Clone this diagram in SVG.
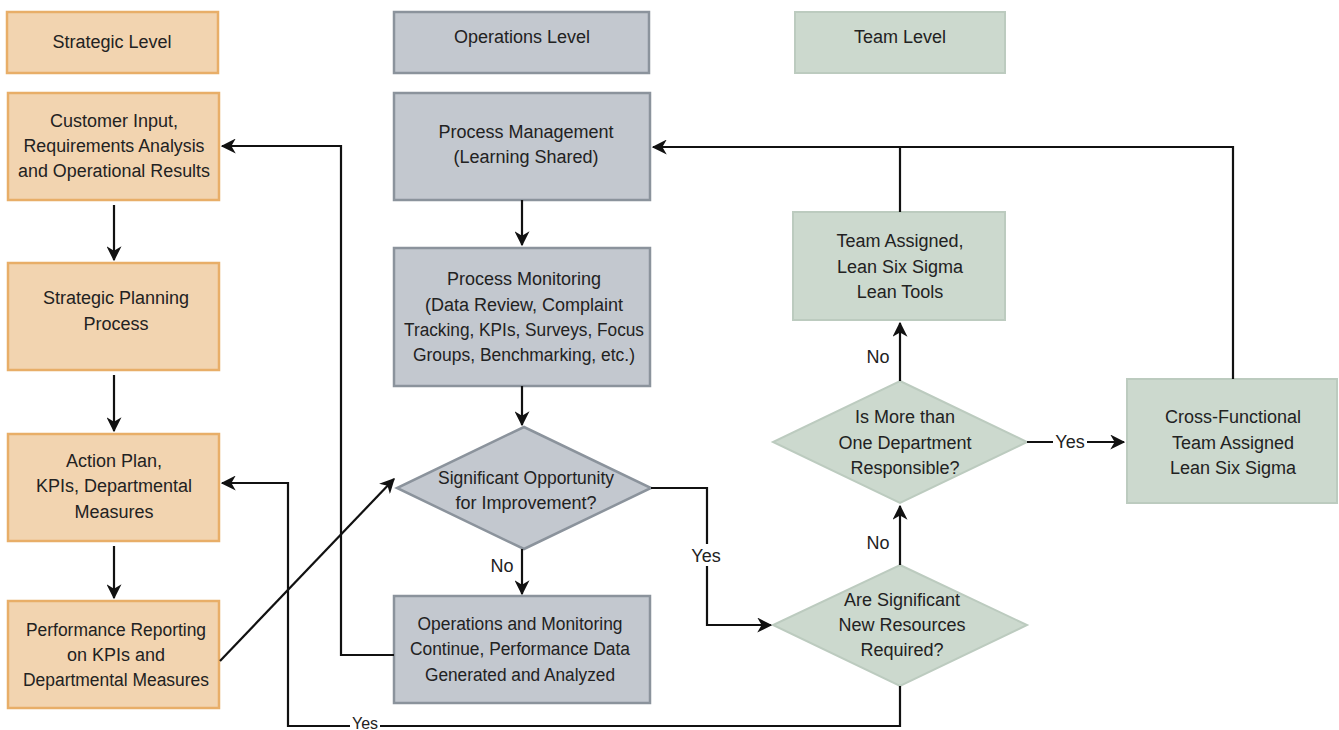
<svg xmlns="http://www.w3.org/2000/svg" width="1339" height="730" viewBox="0 0 1339 730">
<defs>
<style>
.s{fill:#f2d4b0;stroke:#e8ae68;stroke-width:2.5}
.o{fill:#c3c8cf;stroke:#8b939c;stroke-width:2.5}
.t{fill:#ccd9ce;stroke:#bccbbf;stroke-width:2}
text{font-family:"Liberation Sans Narrow","Arial Narrow","Liberation Sans",sans-serif;font-size:18px;fill:#222;text-anchor:middle}
.c{fill:none;stroke:#111;stroke-width:2.2}
.lb{fill:#fff}
</style>
<marker id="a" viewBox="0 0 12 12" refX="11" refY="6" markerWidth="15" markerHeight="15" markerUnits="userSpaceOnUse" orient="auto">
<path d="M0,0 L12,6 L0,12 L3.5,6 z" fill="#111"/>
</marker>
</defs>
<rect width="1339" height="730" fill="#fff"/>

<g id="strategic-level"><rect class="s" x="7" y="12" width="211" height="61"/><text x="112" y="48">Strategic Level</text></g>
<g id="operations-level"><rect class="o" x="394" y="12" width="255" height="61"/><text x="522" y="43">Operations Level</text></g>
<g id="team-level"><rect class="t" x="795" y="12" width="210" height="61"/><text x="900" y="43">Team Level</text></g>

<g id="customer-input"><rect class="s" x="8" y="93" width="211" height="107"/>
<text x="114" y="127">Customer Input,</text><text x="114" y="152" textLength="181" lengthAdjust="spacingAndGlyphs">Requirements Analysis</text><text x="114" y="177" textLength="192" lengthAdjust="spacingAndGlyphs">and Operational Results</text></g>
<g id="strategic-planning"><rect class="s" x="8" y="263" width="211" height="107"/>
<text x="116" y="304">Strategic Planning</text><text x="116" y="330">Process</text></g>
<g id="action-plan"><rect class="s" x="8" y="434" width="211" height="107"/>
<text x="114" y="467">Action Plan,</text><text x="114" y="492">KPIs, Departmental</text><text x="114" y="518">Measures</text></g>
<g id="performance-reporting"><rect class="s" x="8" y="601" width="211" height="107"/>
<text x="116" y="636" textLength="180" lengthAdjust="spacingAndGlyphs">Performance Reporting</text><text x="116" y="661">on KPIs and</text><text x="116" y="686" textLength="186" lengthAdjust="spacingAndGlyphs">Departmental Measures</text></g>

<g id="process-management"><rect class="o" x="394" y="93" width="256" height="107"/>
<text x="526" y="138">Process Management</text><text x="526" y="163">(Learning Shared)</text></g>
<g id="process-monitoring"><rect class="o" x="394" y="248" width="256" height="138"/>
<text x="524" y="285">Process Monitoring</text><text x="524" y="311">(Data Review, Complaint</text><text x="524" y="336" textLength="240" lengthAdjust="spacingAndGlyphs">Tracking, KPIs, Surveys, Focus</text><text x="524" y="361" textLength="222" lengthAdjust="spacingAndGlyphs">Groups, Benchmarking, etc.)</text></g>
<g id="significant-opportunity"><polygon class="o" points="524,427 651,488 524,549 397,488"/>
<text x="526" y="484" textLength="176" lengthAdjust="spacingAndGlyphs">Significant Opportunity</text><text x="526" y="509">for Improvement?</text></g>
<g id="operations-monitoring"><rect class="o" x="394" y="596" width="256" height="107"/>
<text x="520" y="630" textLength="205" lengthAdjust="spacingAndGlyphs">Operations and Monitoring</text><text x="520" y="655" textLength="220" lengthAdjust="spacingAndGlyphs">Continue, Performance Data</text><text x="520" y="681" textLength="190" lengthAdjust="spacingAndGlyphs">Generated and Analyzed</text></g>

<g id="team-assigned"><rect class="t" x="793" y="212" width="212" height="108"/>
<text x="900" y="247">Team Assigned,</text><text x="900" y="273">Lean Six Sigma</text><text x="900" y="298">Lean Tools</text></g>
<g id="more-than-one"><polygon class="t" points="900,381 1027,442 900,503 773,442"/>
<text x="905" y="423">Is More than</text><text x="905" y="449">One Department</text><text x="905" y="474">Responsible?</text></g>
<g id="cross-functional"><rect class="t" x="1127" y="379" width="210" height="124"/>
<text x="1233" y="423">Cross-Functional</text><text x="1233" y="449">Team Assigned</text><text x="1233" y="474">Lean Six Sigma</text></g>
<g id="significant-resources"><polygon class="t" points="900,565 1027,625 900,686 773,625"/>
<text x="902" y="606">Are Significant</text><text x="902" y="631">New Resources</text><text x="902" y="656">Required?</text></g>

<g id="connectors">
<path class="c" d="M114,205 V260" marker-end="url(#a)"/>
<path class="c" d="M114,375 V431" marker-end="url(#a)"/>
<path class="c" d="M114,546 V598" marker-end="url(#a)"/>
<path class="c" d="M522,200 V245" marker-end="url(#a)"/>
<path class="c" d="M522,386 V425" marker-end="url(#a)"/>
<path class="c" d="M522,549 V594" marker-end="url(#a)"/>
<path class="c" d="M394,655 H341 V146 H222" marker-end="url(#a)"/>
<path class="c" d="M651,488 H707 V625 H771" marker-end="url(#a)"/>
<path class="c" d="M220,661 L394,479" marker-end="url(#a)"/>
<path class="c" d="M900,686 V726 H288 V483 H222" marker-end="url(#a)"/>
<path class="c" d="M900,565 V506" marker-end="url(#a)"/>
<path class="c" d="M900,381 V323" marker-end="url(#a)"/>
<path class="c" d="M1027,442 H1124" marker-end="url(#a)"/>
<path class="c" d="M900,212 V147"/>
<path class="c" d="M1233,379 V147 H653" marker-end="url(#a)"/>
<rect class="lb" x="693" y="544" width="28" height="22"/>
<text x="706" y="562">Yes</text>
<text x="502" y="572">No</text>
<text x="878" y="549">No</text>
<text x="878" y="363">No</text>
<rect class="lb" x="1053" y="432" width="34" height="20"/>
<text x="1070" y="448">Yes</text>
<rect class="lb" x="350" y="717" width="30" height="13"/>
<text x="365" y="729" style="font-size:16px">Yes</text>
</g>
</svg>
